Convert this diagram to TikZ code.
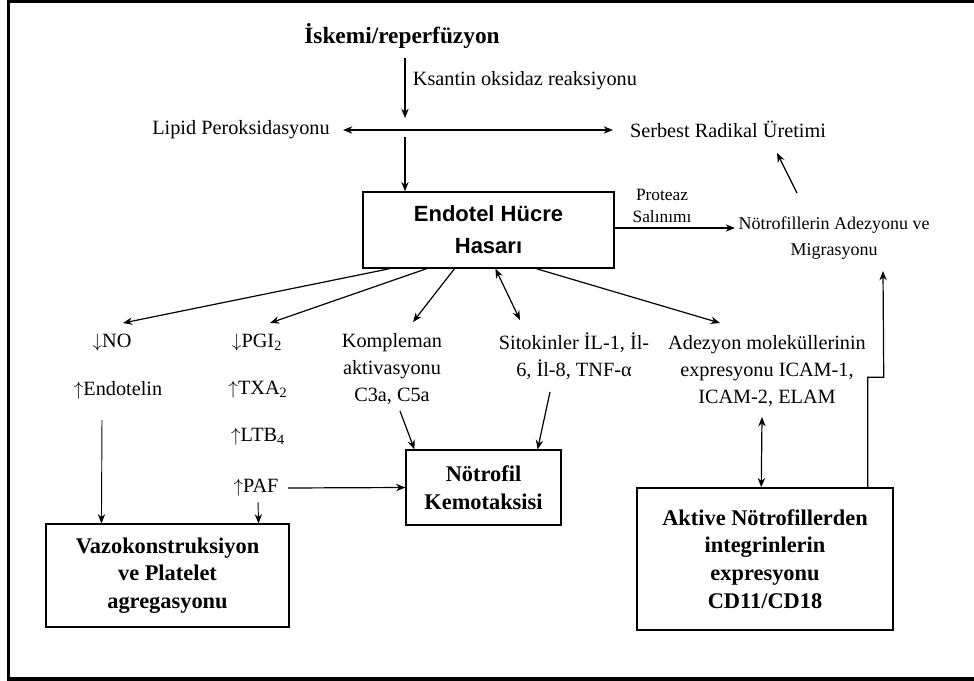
\documentclass[tikz,border=0pt]{standalone}
\usepackage{fontspec}
\setmainfont{Liberation Serif}
\newfontfamily\boxsans{Liberation Sans}
\usetikzlibrary{arrows.meta,calc,positioning}

\begin{document}
\begin{tikzpicture}[
        x=0.75pt, y=-0.75pt,
        box/.style={rectangle, draw, line width=1.1pt, align=center, font=\bfseries\fontsize{16.8}{20.8}\selectfont},
        lbl/.style={align=center, inner sep=2pt, font=\fontsize{15.2}{20}\selectfont},
        flow/.style={-{Stealth[length=7pt,width=5.5pt]}, line width=0.9pt},
        twoway/.style={{Stealth[length=7pt,width=5.5pt]}-{Stealth[length=7pt,width=5.5pt]}, line width=0.9pt}
    ]
    \useasboundingbox (0,0) rectangle (974,681);
    
    % Frame (right side lies outside the page)
    \draw[line width=2.3pt] (1000,1.5) -- (8.5,1.5) -- (8.5,679) -- (1000,679);
    
    % Top of the cascade
    \node[font=\bfseries\fontsize{17.5}{22}\selectfont] (iskemi) at (402,36) {İskemi/reperfüzyon};
    \node[lbl, anchor=west] (ksantin) at (410,81) {Ksantin oksidaz reaksiyonu};
    \node[lbl] (lipid) at (241,130) {Lipid Peroksidasyonu};
    \node[lbl] (serbest) at (728,129) {Serbest Radikal Üretimi};
    \coordinate (split) at (405,130);
    
    % Main boxes
    \node[box, font=\boxsans\bfseries\fontsize{16.5}{24}\selectfont, minimum width=188pt, minimum height=57pt] (endotel) at (488.5,230) {Endotel Hücre\\Hasarı};
    \node[box, minimum width=116pt, minimum height=56pt] (notkemo) at (483.5,487.5) {Nötrofil\\Kemotaksisi};
    \node[box, minimum width=182pt, minimum height=77pt] (vazo) at (167.5,575.5) {Vazokonstruksiyon\\ve Platelet\\agregasyonu};
    \node[box, minimum width=192pt, minimum height=106.5pt] (aktive) at (765,559) {Aktive Nötrofillerden\\integrinlerin\\expresyonu\\CD11/CD18};
    
    % Side labels
    \node[lbl, font=\fontsize{13}{16}\selectfont] (proteaz) at (662,206) {Proteaz\\Salınımı};
    \node[lbl, font=\fontsize{13.5}{19}\selectfont] (notadez) at (834,238) {Nötrofillerin Adezyonu ve\\Migrasyonu};
    
    % Mediators
    \node[lbl] (no) at (112,343) {$\downarrow$NO};
    \node[lbl] (endotelin) at (118,390) {$\uparrow$Endotelin};
    \node[lbl] (pgi) at (257,343) {$\downarrow$PGI\textsubscript{2}};
    \node[lbl] (txa) at (258,390) {$\uparrow$TXA\textsubscript{2}};
    \node[lbl] (ltb) at (258,437) {$\uparrow$LTB\textsubscript{4}};
    \node[lbl] (paf) at (256,488) {$\uparrow$PAF};
    \node[lbl] (kompleman) at (392,369) {Kompleman\\aktivasyonu\\C3a, C5a};
    \node[lbl] (sitokin) at (574,356) {Sitokinler İL-1, İl-\\6, İl-8, TNF-α};
    \node[lbl] (adezyon) at (767,371) {Adezyon moleküllerinin\\expresyonu ICAM-1,\\ICAM-2, ELAM};
    
    % Arrows - top
    \draw[flow] ($(iskemi)+(3,22)$) -- ($(split)+(0,-12)$);
    \draw[twoway] ($(lipid)+(102,0)$) -- ($(serbest)+(-115,1)$);
    \draw[flow] ($(split)+(0,7)$) -- (split |- endotel.north);
    \draw[flow] ($(endotel.east)+(0,-2)$) -- ($(notadez)+(-99,-10)$);
    \draw[flow] ($(notadez)+(-37,-45)$) -- ($(serbest)+(49,24)$);
    
    % Arrows - from Endotel Hucre Hasari
    \draw[flow] ($(endotel.south west)+(27,0)$) -- ($(no)+(11,-20)$);
    \draw[flow] ($(endotel.south west)+(64,0)$) -- ($(pgi)+(13,-20)$);
    \draw[flow] ($(endotel.south west)+(92,0)$) -- ($(kompleman)+(21,-47)$);
    \draw[twoway] ($(endotel.south west)+(133,0)$) -- ($(sitokin)+(-54,-36)$);
    \draw[flow] ($(endotel.south west)+(174,0)$) -- ($(adezyon)+(-47,-48)$);
    
    % Arrows - lower part
    \draw[flow, line width=0.7pt] ($(endotelin)+(-16,30)$) -- ($(vazo.north west)+(56,0)$);
    \draw[flow, line width=0.7pt] ($(paf)+(2,14)$) -- ($(vazo.north east)+(-31,0)$);
    \draw[flow] ($(paf)+(32,0)$) -- (notkemo.west);
    \draw[flow] ($(kompleman)+(8,42)$) -- ($(notkemo.north west)+(9,0)$);
    \draw[flow] ($(sitokin)+(-24,36)$) -- ($(notkemo.north east)+(-24,0)$);
    \draw[twoway] ($(adezyon)+(-5,46)$) -- ($(aktive.north west)+(125,0)$);
    \draw[flow] ($(aktive.north east)+(-26,0)$) -- ++(0,-110) -- ++(16,0) -- ($(notadez)+(49,33)$);
    
\end{tikzpicture}
\end{document}
